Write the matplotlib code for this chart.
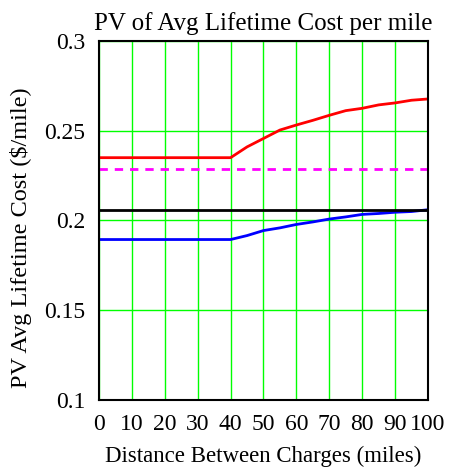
import matplotlib
matplotlib.use("Agg")
import matplotlib.pyplot as plt

# Distance between charges (miles)
miles = [0, 40, 45, 50, 55, 60, 65, 70, 75, 80, 85, 90, 95, 100]

# PV of average lifetime cost per mile ($/mile)
cost_high = [0.2350, 0.2350, 0.2410, 0.2457, 0.2504, 0.2532, 0.2558, 0.2586,
             0.2612, 0.2625, 0.2644, 0.2655, 0.2670, 0.2677]
cost_low = [0.1894, 0.1894, 0.1916, 0.1944, 0.1959, 0.1978, 0.1992, 0.2008,
            0.2020, 0.2034, 0.2039, 0.2046, 0.2050, 0.2060]
ref_dashed = 0.2288
ref_solid = 0.2057

xticks = [0, 10, 20, 30, 40, 50, 60, 70, 80, 90, 100]
yticks = [0.1, 0.15, 0.2, 0.25, 0.3]
ytick_labels = ["0.1", "0.15", "0.2", "0.25", "0.3"]

plt.rcParams["font.family"] = ["Liberation Serif", "DejaVu Serif"]

fig = plt.figure(figsize=(4.49, 4.68), dpi=100)
ax = fig.add_axes([0.2205, 0.1453, 0.7327, 0.7671])

ax.set_xlim(0, 100)
ax.set_ylim(0.1, 0.3)
ax.set_xticks(xticks)
ax.set_yticks(yticks)
ax.set_yticklabels(ytick_labels)
ax.tick_params(length=0, labelsize=17)
ax.tick_params(axis="y", pad=10)
ax.tick_params(axis="x", pad=10)
ax.grid(True, color="#00ff00", linewidth=1.0)
ax.set_axisbelow(True)
for s in ax.spines.values():
    s.set_linewidth(1.5)
    s.set_color("black")

ax.plot(miles, cost_high, color="#ff0000", lw=2)
ax.plot(miles, cost_low, color="#0000ff", lw=2)
ax.axhline(ref_dashed, color="#ff00ff", lw=2, dashes=(3, 2.5))
ax.axhline(ref_solid, color="black", lw=2)

ax.set_title("PV of Avg Lifetime Cost per mile", fontsize=18, pad=8)
ax.set_xlabel("Distance Between Charges (miles)", fontsize=16.5, labelpad=8)
ax.set_ylabel("PV Avg Lifetime Cost ($/mile)", fontsize=17.5)
ax.yaxis.set_label_coords(-0.205, 0.452)

fig.savefig("out.png", dpi=100)
